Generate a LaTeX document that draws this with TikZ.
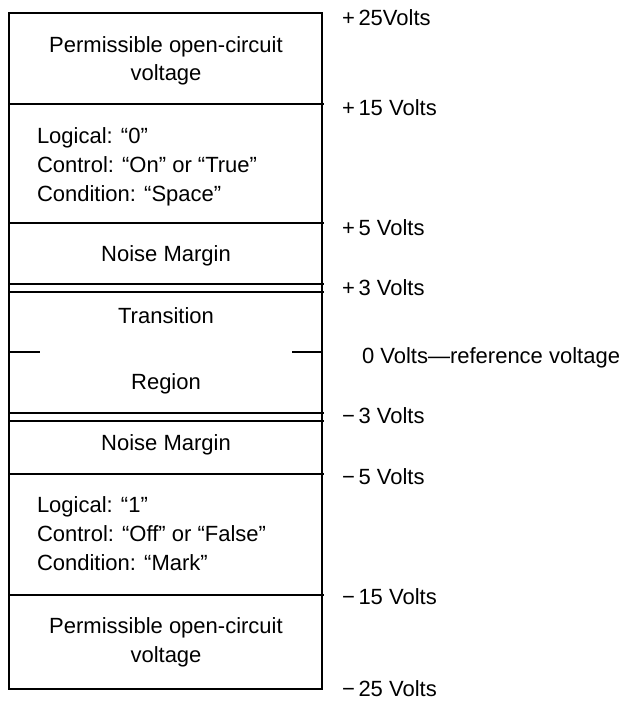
\documentclass[tikz,border=0pt]{standalone}
\usepackage{fontspec}
\setmainfont{Liberation Sans}
\begin{document}
\begin{tikzpicture}[x=1pt,y=-1pt,
  every node/.style={inner sep=0pt,outer sep=0pt,font=\fontsize{22}{28}\selectfont},
  boxline/.style={line width=2.8pt},
  lbl/.style={anchor=base west},
  ctext/.style={anchor=base},
  ltext/.style={anchor=base west}]
\useasboundingbox (0,0) rectangle (629,702);
% outer frame
\coordinate (tl) at (9,13);
\coordinate (tr) at (322,13);
\coordinate (bl) at (9,689);
\coordinate (br) at (322,689);
\draw[boxline] (tl) -- (tr) -- (br) -- (bl) -- cycle;
% dividers
\foreach \y/\n in {104/a,223/b,284/c,292/d,413/e,421/f,474/g,595/h}{
  \coordinate (\n L) at (9,\y);
  \coordinate (\n R) at (324,\y);
  \draw[boxline] (\n L) -- (\n R);
}
% zero ticks
\coordinate (zl1) at (9,352);
\coordinate (zl2) at (40,352);
\coordinate (zr1) at (292,352);
\coordinate (zr2) at (322,352);
\draw[boxline] (zl1) -- (zl2);
\draw[boxline] (zr1) -- (zr2);
% box texts
\node[ctext] (p1a) at (166,52) {Permissible open-circuit};
\node[ctext] (p1b) at (166,80) {voltage};
\node[ltext] (l0a) at (37,143) {Logical: “0”};
\node[ltext] (l0b) at (37,172) {Control: “On” or “True”};
\node[ltext] (l0c) at (37,201) {Condition: “Space”};
\node[ctext] (nm1) at (166,261) {Noise Margin};
\node[ctext] (tr1) at (166,323) {Transition};
\node[ctext] (tr2) at (166,389) {Region};
\node[ctext] (nm2) at (166,450) {Noise Margin};
\node[ltext] (l1a) at (37,512) {Logical: “1”};
\node[ltext] (l1b) at (37,541) {Control: “Off” or “False”};
\node[ltext] (l1c) at (37,570) {Condition: “Mark”};
\node[ctext] (p2a) at (166,633) {Permissible open-circuit};
\node[ctext] (p2b) at (166,662) {voltage};
% voltage labels
\node[lbl] (v25) at (342,25) {+\,25Volts};
\node[lbl] (v15) at (342,115) {+\,15 Volts};
\node[lbl] (v5) at (342,235) {+\,5 Volts};
\node[lbl] (v3) at (342,295) {+\,3 Volts};
\node[lbl] (v0) at (362,363) {0 Volts—reference voltage};
\node[lbl] (vm3) at (342,423) {−\,3 Volts};
\node[lbl] (vm5) at (342,484) {−\,5 Volts};
\node[lbl] (vm15) at (342,604) {−\,15 Volts};
\node[lbl] (vm25) at (342,696) {−\,25 Volts};
\end{tikzpicture}
\end{document}
